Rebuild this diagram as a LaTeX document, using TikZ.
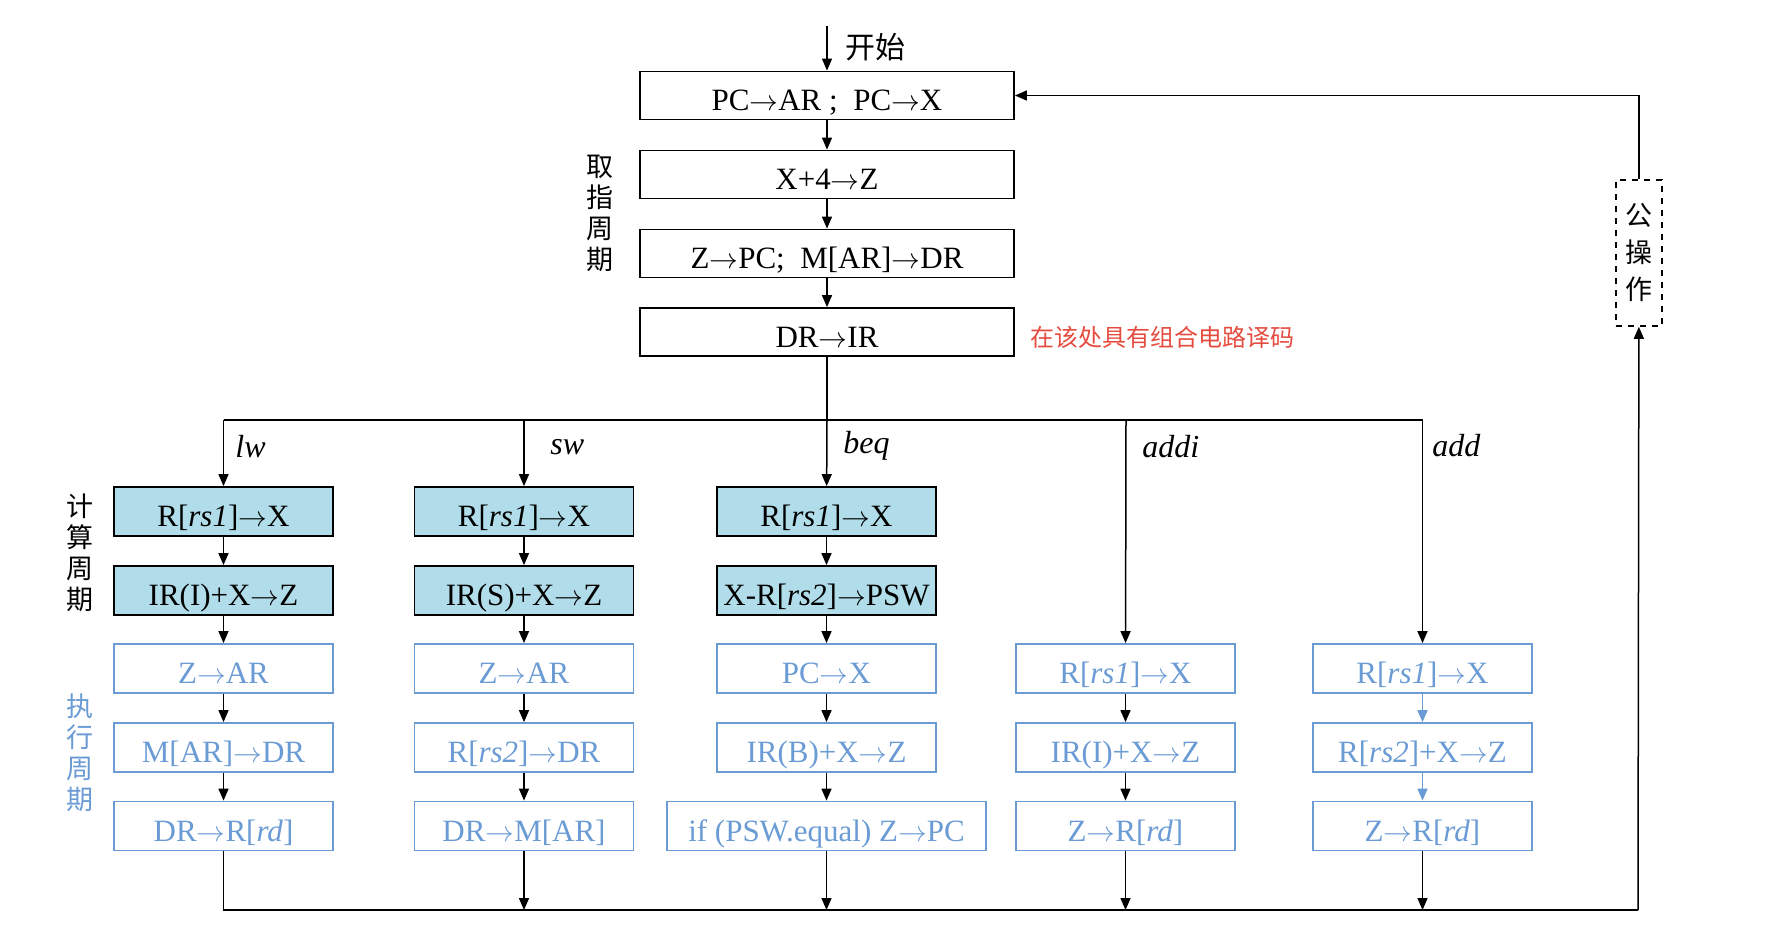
\documentclass[tikz,border=0pt]{standalone}
\usepackage{fontspec}
\setmainfont{Liberation Serif}
\newfontfamily\cjk{Noto Sans CJK SC}
\usetikzlibrary{positioning,arrows.meta}
\tikzset{>={Triangle[length=6pt,width=5pt]}}
\definecolor{fillcyan}{RGB}{176,221,233}
\definecolor{stepblue}{RGB}{106,155,212}
\definecolor{notered}{RGB}{229,75,62}
\newcommand*{\rg}[1]{\textit{#1}}
\newcommand*{\toarr}{$\rightarrow$}
\tikzset{
  box/.style={draw,line width=0.9pt,minimum width=187pt,minimum height=24pt,
    inner sep=0pt,text height=15pt,text depth=0pt,font=\fontsize{15.5}{19}\selectfont},
  cbox/.style={box,fill=fillcyan,minimum width=109.5pt,minimum height=24.5pt},
  ebox/.style={box,draw=stepblue,text=stepblue,minimum width=109.5pt,minimum height=24.5pt},
  wire/.style={line width=0.75pt},
  op/.style={font=\fontsize{16}{19}\selectfont\itshape,anchor=west,inner sep=0pt},
  side/.style={font=\cjk\fontsize{13.5}{15.5}\selectfont,align=center,inner sep=0pt}
}

\begin{document}
\begin{tikzpicture}[x=0.5pt,y=-0.5pt]
\useasboundingbox (0,0) rectangle (1784,938);
% fetch cycle
\coordinate (start) at (827,26);
\node[box] (pc) at (827,95.5) {PC\toarr AR ;\ \ PC\toarr X};
\node[box] (inc) at (827,174.5) {X+4\toarr Z};
\node[box] (mem) at (827,253.5) {Z\toarr PC;\ \ M[AR]\toarr DR};
\node[box] (ir) at (827,332) {DR\toarr IR};
\node[font=\cjk\fontsize{15}{18}\selectfont,inner sep=0pt] (go) at (875,47) {开始};
\node[side] (fetch) at (600,213) {取\\指\\周\\期};
\node[font=\cjk\fontsize{12}{14}\selectfont,text=notered,anchor=west,inner sep=0pt]
  (note) at (1030,337) {在该处具有组合电路译码};
\draw[wire,->] (start) -- (pc);
\draw[wire,->] (pc) -- (inc);
\draw[wire,->] (inc) -- (mem);
\draw[wire,->] (mem) -- (ir);
% branch
\coordinate (t1) at (223.5,420);
\coordinate (t2) at (524,420);
\coordinate (t3) at (827,420);
\coordinate (t4) at (1126,420);
\coordinate (t5) at (1422.5,420);
\draw[wire] (ir) -- (t3);
\draw[wire] (t1) -- (t5);
\node[op] (lw) at (235,447) {lw};
\node[op] (sw) at (550,447) {sw};
\node[op] (beq) at (843,446) {beq};
\node[op] (addi) at (1142,447) {addi};
\node[op] (add) at (1432,446) {add};
% lw
\node[cbox] (c1a) at (223.5,511.5) {R[\rg{rs1}]\toarr X};
\node[cbox] (c1b) at (223.5,590.5) {IR(I)+X\toarr Z};
\node[ebox] (c1c) at (223.5,668.5) {Z\toarr AR};
\node[ebox] (c1d) at (223.5,747.5) {M[AR]\toarr DR};
\node[ebox] (c1e) at (223.5,826) {DR\toarr R[\rg{rd}]};
% sw
\node[cbox] (c2a) at (524,511.5) {R[\rg{rs1}]\toarr X};
\node[cbox] (c2b) at (524,590.5) {IR(S)+X\toarr Z};
\node[ebox] (c2c) at (524,668.5) {Z\toarr AR};
\node[ebox] (c2d) at (524,747.5) {R[\rg{rs2}]\toarr DR};
\node[ebox] (c2e) at (524,826) {DR\toarr M[AR]};
% beq
\node[cbox] (c3a) at (826.5,511.5) {R[\rg{rs1}]\toarr X};
\node[cbox] (c3b) at (826.5,590.5) {X-R[\rg{rs2}]\toarr PSW};
\node[ebox] (c3c) at (826.5,668.5) {PC\toarr X};
\node[ebox] (c3d) at (826.5,747.5) {IR(B)+X\toarr Z};
\node[ebox,minimum width=159.5pt] (c3e) at (826.5,826) {if (PSW.equal) Z\toarr PC};
% addi
\node[ebox] (c4c) at (1125.5,668.5) {R[\rg{rs1}]\toarr X};
\node[ebox] (c4d) at (1125.5,747.5) {IR(I)+X\toarr Z};
\node[ebox] (c4e) at (1125.5,826) {Z\toarr R[\rg{rd}]};
% add
\node[ebox] (c5c) at (1422.5,668.5) {R[\rg{rs1}]\toarr X};
\node[ebox] (c5d) at (1422.5,747.5) {R[\rg{rs2}]+X\toarr Z};
\node[ebox] (c5e) at (1422.5,826) {Z\toarr R[\rg{rd}]};
\node[side] (comp) at (80,553) {计\\算\\周\\期};
\node[side,text=stepblue] (exe) at (80,753) {执\\行\\周\\期};
\draw[wire,->] (t1) -- (c1a);
\draw[wire,->] (t2) -- (c2a);
\draw[wire,->] (t3) -- (c3a);
\draw[wire,->] (t4) -- (c4c);
\draw[wire,->] (t5) -- (c5c);
\draw[wire,->] (c1a) -- (c1b);
\draw[wire,->] (c1b) -- (c1c);
\draw[wire,->] (c1c) -- (c1d);
\draw[wire,->] (c1d) -- (c1e);
\draw[wire,->] (c2a) -- (c2b);
\draw[wire,->] (c2b) -- (c2c);
\draw[wire,->] (c2c) -- (c2d);
\draw[wire,->] (c2d) -- (c2e);
\draw[wire,->] (c3a) -- (c3b);
\draw[wire,->] (c3b) -- (c3c);
\draw[wire,->] (c3c) -- (c3d);
\draw[wire,->] (c3d) -- (c3e);
\draw[wire,->] (c4c) -- (c4d);
\draw[wire,->] (c4d) -- (c4e);
\draw[wire,->,stepblue] (c5c) -- (c5d);
\draw[wire,->,stepblue] (c5d) -- (c5e);
% common operation back to fetch
\coordinate (b1) at (223.5,910);
\coordinate (b2) at (524,910);
\coordinate (b3) at (826.5,910);
\coordinate (b4) at (1125.5,910);
\coordinate (b5) at (1422.5,910);
\coordinate (bend) at (1638,910);
\node[draw,dashed,line width=0.8pt,minimum width=23pt,minimum height=73pt,inner sep=0pt,
  font=\cjk\fontsize{13.5}{18.5}\selectfont,align=center] (pub) at (1639,253) {公\\操\\作};
\draw[wire] (c1e) -- (b1) -- (bend);
\draw[wire,->] (c2e) -- (b2);
\draw[wire,->] (c3e) -- (b3);
\draw[wire,->] (c4e) -- (b4);
\draw[wire,->] (c5e) -- (b5);
\draw[wire,->] (bend) -- (pub);
\draw[wire,->] (pub) |- (pc);
\end{tikzpicture}
\end{document}
